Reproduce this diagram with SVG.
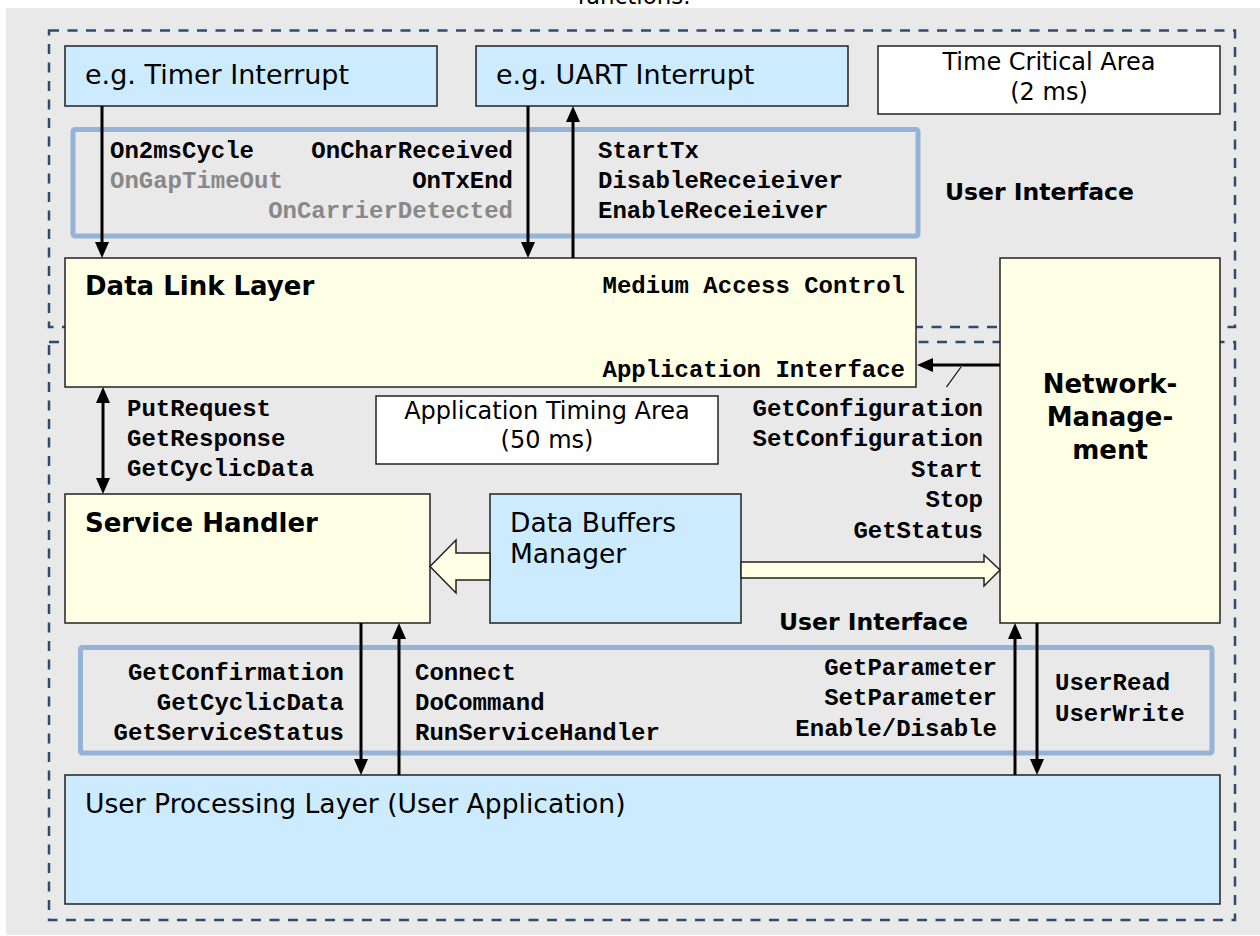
<svg xmlns="http://www.w3.org/2000/svg" width="1260" height="936" viewBox="0 0 1260 936">
  <style>
    .sans { font-family: "DejaVu Sans", Verdana, sans-serif; fill: #000; }
    .title { font-family: "DejaVu Sans", Verdana, sans-serif; font-weight: bold; fill: #000; }
    .mono { font-family: "Liberation Mono", "Courier New", monospace; font-weight: bold; font-size: 24px; fill: #000; }
    .dim { fill: #888; }
    .ui { font-family: "Comic Sans MS", "DejaVu Sans", sans-serif; font-weight: bold; font-size: 23.5px; fill: #000; }
    .blue { fill: #CCEBFF; stroke: #222; stroke-width: 1.5; }
    .yellow { fill: #FFFFE5; stroke: #222; stroke-width: 1.5; }
    .white { fill: #FFFFFF; stroke: #222; stroke-width: 1.5; }
    .zone { fill: none; stroke: #2F4B6E; stroke-width: 2.5; stroke-dasharray: 10 8.5; }
    .iface { fill: none; stroke: #95B3D7; stroke-width: 5; }
    .wire { stroke: #000; stroke-width: 3; fill: none; }
    .block { fill: #FFFFE5; stroke: #222; stroke-width: 1.5; }
  </style>
  <defs>
    <marker id="ah" viewBox="0 0 16 14" refX="8" refY="7" markerWidth="16" markerHeight="14" markerUnits="userSpaceOnUse" orient="auto-start-reverse">
      <path d="M0,0 L16,7 L0,14 z" fill="#000"/>
    </marker>
  </defs>

  <!-- page -->
  <rect x="0" y="0" width="1260" height="936" fill="#FFFFFF"/>
  <rect x="6" y="8" width="1254" height="927" fill="#E9E9E9"/>
  <text class="sans" x="634" y="4" font-size="23" text-anchor="middle">functions.</text>

  <!-- timing zones -->
  <g id="zone-time-critical">
    <rect class="zone" x="49" y="30.5" width="1186" height="296.5"/>
  </g>
  <g id="zone-application">
    <rect class="zone" x="49" y="342" width="1186" height="578"/>
  </g>

  <!-- user interface frames -->
  <g id="ui-upper">
    <rect class="iface" x="73" y="129.5" width="845" height="106.5" rx="2"/>
    <text class="ui" x="945" y="200">User Interface</text>
  </g>
  <g id="ui-lower">
    <rect class="iface" x="80.5" y="647.5" width="1131.5" height="105.5" rx="2"/>
    <text class="ui" x="779" y="630">User Interface</text>
  </g>

  <!-- nodes -->
  <g id="timer-interrupt">
    <rect class="blue" x="65" y="46" width="372" height="60"/>
    <text class="sans" x="85" y="84" font-size="27">e.g. Timer Interrupt</text>
  </g>
  <g id="uart-interrupt">
    <rect class="blue" x="476" y="46" width="372" height="60"/>
    <text class="sans" x="496" y="84" font-size="27">e.g. UART Interrupt</text>
  </g>
  <g id="time-critical-area">
    <rect class="white" x="878" y="46" width="342" height="68"/>
    <text class="sans" x="1049" y="70" font-size="24" text-anchor="middle">Time Critical Area</text>
    <text class="sans" x="1049" y="100" font-size="24" text-anchor="middle">(2 ms)</text>
  </g>
  <g id="data-link-layer">
    <rect class="yellow" x="65" y="258" width="851" height="129"/>
    <text class="title" x="85" y="295" font-size="26">Data Link Layer</text>
    <text class="mono" x="905" y="293" font-size="26.5" text-anchor="end">Medium Access Control</text>
    <text class="mono" x="905" y="377" font-size="26.5" text-anchor="end">Application Interface</text>
  </g>
  <g id="network-management">
    <rect class="yellow" x="1000" y="258" width="220" height="365"/>
    <text class="title" x="1110" y="393" font-size="26" text-anchor="middle">Network-</text>
    <text class="title" x="1110" y="426" font-size="26" text-anchor="middle">Manage-</text>
    <text class="title" x="1110" y="459" font-size="26" text-anchor="middle">ment</text>
  </g>
  <g id="application-timing-area">
    <rect class="white" x="376" y="396" width="342" height="68"/>
    <text class="sans" x="547" y="419" font-size="24" text-anchor="middle">Application Timing Area</text>
    <text class="sans" x="547" y="448" font-size="24" text-anchor="middle">(50 ms)</text>
  </g>
  <g id="service-handler">
    <rect class="yellow" x="65" y="494" width="365" height="129"/>
    <text class="title" x="85" y="532" font-size="26">Service Handler</text>
  </g>
  <g id="data-buffers-manager">
    <rect class="blue" x="490" y="494" width="251" height="129"/>
    <text class="sans" x="510" y="532" font-size="26.5">Data Buffers</text>
    <text class="sans" x="510" y="563" font-size="26.5">Manager</text>
  </g>
  <g id="user-processing-layer">
    <rect class="blue" x="65" y="775" width="1155" height="129"/>
    <text class="sans" x="85" y="813" font-size="26.6">User Processing Layer (User Application)</text>
  </g>

  <!-- interface labels -->
  <g id="labels">
    <text class="mono" x="110" y="158">On2msCycle</text>
    <text class="mono dim" x="110" y="188">OnGapTimeOut</text>
    <text class="mono" x="513" y="158" text-anchor="end">OnCharReceived</text>
    <text class="mono" x="513" y="188" text-anchor="end">OnTxEnd</text>
    <text class="mono dim" x="513" y="218" text-anchor="end">OnCarrierDetected</text>
    <text class="mono" x="598" y="158">StartTx</text>
    <text class="mono" x="598" y="188">DisableReceieiver</text>
    <text class="mono" x="598" y="218">EnableReceieiver</text>

    <text class="mono" x="127" y="416">PutRequest</text>
    <text class="mono" x="127" y="446">GetResponse</text>
    <text class="mono" x="127" y="476">GetCyclicData</text>

    <text class="mono" x="983" y="416" text-anchor="end">GetConfiguration</text>
    <text class="mono" x="983" y="446" text-anchor="end">SetConfiguration</text>
    <text class="mono" x="983" y="477" text-anchor="end">Start</text>
    <text class="mono" x="983" y="507" text-anchor="end">Stop</text>
    <text class="mono" x="983" y="538" text-anchor="end">GetStatus</text>

    <text class="mono" x="344" y="680" text-anchor="end">GetConfirmation</text>
    <text class="mono" x="344" y="710" text-anchor="end">GetCyclicData</text>
    <text class="mono" x="344" y="740" text-anchor="end">GetServiceStatus</text>
    <text class="mono" x="415" y="680">Connect</text>
    <text class="mono" x="415" y="710">DoCommand</text>
    <text class="mono" x="415" y="740">RunServiceHandler</text>

    <text class="mono" x="997" y="675" text-anchor="end">GetParameter</text>
    <text class="mono" x="997" y="705" text-anchor="end">SetParameter</text>
    <text class="mono" x="997" y="736" text-anchor="end">Enable/Disable</text>
    <text class="mono" x="1055" y="690">UserRead</text>
    <text class="mono" x="1055" y="721">UserWrite</text>
  </g>

  <!-- connectors -->
  <g id="connectors">
    <line class="wire" x1="102" y1="106" x2="102" y2="250" marker-end="url(#ah)"/>
    <line class="wire" x1="528" y1="106" x2="528" y2="250" marker-end="url(#ah)"/>
    <line class="wire" x1="573" y1="258" x2="573" y2="114" marker-end="url(#ah)"/>
    <line class="wire" x1="1000" y1="365" x2="925" y2="365" marker-end="url(#ah)"/>
    <line x1="946.5" y1="387" x2="961" y2="367" stroke="#000" stroke-width="1.2"/>
    <line class="wire" x1="103" y1="395" x2="103" y2="486" marker-start="url(#ah)" marker-end="url(#ah)"/>
    <line class="wire" x1="361" y1="623" x2="361" y2="767" marker-end="url(#ah)"/>
    <line class="wire" x1="399" y1="775" x2="399" y2="631" marker-end="url(#ah)"/>
    <line class="wire" x1="1015" y1="775" x2="1015" y2="631" marker-end="url(#ah)"/>
    <line class="wire" x1="1037" y1="623" x2="1037" y2="767" marker-end="url(#ah)"/>
    <polygon class="block" points="490,553 456,553 456,540 430,566.5 456,593 456,580 490,580"/>
    <polygon class="block" points="741,562 984,562 984,555 1000,570 984,586 984,578 741,578"/>
  </g>
</svg>
